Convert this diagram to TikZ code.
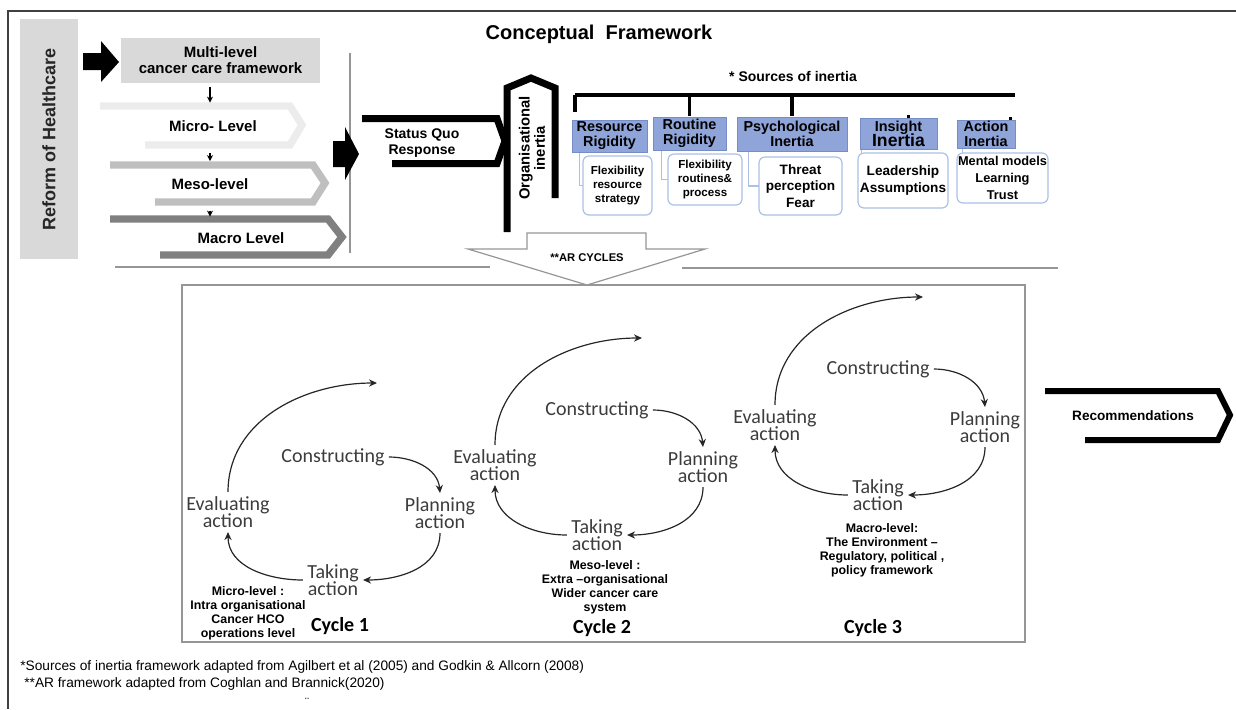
\documentclass[tikz,border=0pt]{standalone}
\usepackage{fontspec}
\setmainfont{Liberation Sans}
\newfontfamily\calibri{Carlito}
\usetikzlibrary{arrows.meta,calc}

\definecolor{hdrblue}{RGB}{143,164,216}
\definecolor{hdredge}{RGB}{118,140,198}
\definecolor{detedge}{RGB}{172,192,230}
\definecolor{boxgray}{RGB}{217,217,217}
\definecolor{rulegray}{RGB}{150,150,150}
\definecolor{cyctext}{RGB}{60,60,60}

\begin{document}
\begin{tikzpicture}[x=0.5pt,y=-0.5pt,
  every node/.style={inner sep=0pt,align=center},
  rule/.style={draw=rulegray,line width=0.6pt},
  graybox/.style={fill=boxgray},
  band/.style={line width=3.7pt},
  chevron/.style={line width=3.5pt},
  levelarrow/.style={-{Stealth[length=3pt,width=3pt]},line width=0.7pt,shorten <=2pt},
  boxtext/.style={font=\bfseries\fontsize{7.5}{8}\selectfont},
  hdr/.style={draw=hdredge,fill=hdrblue,line width=0.5pt,font=\bfseries\fontsize{7.2}{7.5}\selectfont},
  detail/.style={draw=detedge,fill=white,rounded corners=3pt,line width=0.6pt,font=\bfseries\fontsize{6.8}{8.2}\selectfont},
  smalldetail/.style={detail,font=\bfseries\fontsize{5.8}{6.8}\selectfont},
  hook/.style={draw=detedge,line width=0.6pt},
  bracket/.style={line width=1.6pt},
  cyc/.style={font=\calibri\fontsize{10}{8.6}\selectfont,text=cyctext,inner sep=2pt},
  cycarrow/.style={-{Stealth[length=4pt,width=3.6pt]},line width=0.6pt,draw=black!85},
  level/.style={font=\bfseries\fontsize{6.2}{7}\selectfont},
  cycletitle/.style={font=\calibri\bfseries\fontsize{10}{12}\selectfont},
  note/.style={anchor=west,font=\fontsize{6.85}{8}\selectfont}]
\lineskiplimit=-10pt

\useasboundingbox (0,0) rectangle (1236,709);
\draw[draw=black!75,line width=1pt] (8,709) -- (8,11) -- (1236,11);

\node[graybox,rotate=90,minimum width=120pt,minimum height=29pt,
  font=\bfseries\fontsize{9}{10}\selectfont,text=black!85] (reform) at (49,139) {Reform of Healthcare};
\fill (83,53) -- (101,53) -- (101,41) -- (119,62) -- (101,82) -- (101,70) -- (83,70) -- cycle;
\node[graybox,boxtext,minimum width=99.5pt,minimum height=22.5pt] (multi) at (220.5,60.5) {Multi-level\\cancer care framework};

\draw[band,draw=gray!15] (100,106) -- (290,106) -- (302,125) -- (290,145) -- (145,145);
\draw[band,draw=gray!50] (110,165) -- (313,165) -- (325,183) -- (313,202) -- (155,202);
\draw[band,draw=gray] (110,219) -- (328,219) -- (342,237) -- (328,255) -- (160,255);
\node[boxtext,minimum height=23pt] (micro) at (213,126) {Micro- Level};
\node[boxtext,minimum height=22.5pt] (meso) at (210,184) {Meso-level};
\node[boxtext,minimum height=21pt] (macro) at (241,238) {Macro Level};
\draw[levelarrow] (multi.south -| meso.south) -- (micro.north -| meso.south);
\draw[levelarrow] (micro.south -| meso.south) -- (meso.north);
\draw[levelarrow] (meso.south) -- (meso.south |- macro.north);

\draw[rule] (350,53) -- (350,253);
\draw[rule] (115,267) -- (490,267);
\draw[rule] (682,268) -- (1058,268);

\fill (333,141) -- (345,141) -- (345,127) -- (359,154) -- (345,180) -- (345,167) -- (333,167) -- cycle;
\draw[chevron] (362,118.5) -- (497,118.5) -- (505,141) -- (497,163.5) -- (392,163.5);
\node[font=\bfseries\fontsize{7}{8}\selectfont] (quo) at (422,143) {Status Quo\\Response};
\draw[chevron] (507,232) -- (507,88) -- (531,78) -- (555,88) -- (555,198);
\node[rotate=90,font=\bfseries\fontsize{7.4}{7.6}\selectfont] (inertia) at (532,148) {Organisational\\inertia};

\node[font=\bfseries\fontsize{10}{12}\selectfont] (title) at (599,34) {Conceptual\ \ Framework};
\node[font=\bfseries\fontsize{7}{8}\selectfont] (sources) at (793,76) {* Sources of inertia};

\node[hdr,minimum width=37.5pt,minimum height=16pt] (res) at (609.5,136) {Resource\\Rigidity};
\node[hdr,minimum width=36.5pt,minimum height=16.5pt] (rou) at (689.5,133.5) {Routine\\Rigidity};
\node[hdr,minimum width=55pt,minimum height=17pt] (psy) at (792,134) {Psychological\\Inertia};
\node[hdr,minimum width=38.5pt,minimum height=15.5pt] (ins) at (898.5,133.5) {Insight\\{\fontsize{8.8}{8}\selectfont Inertia}};
\node[hdr,minimum width=29pt,minimum height=14pt] (act) at (986,134) {Action\\Inertia};

\coordinate (barl) at (575,95);
\coordinate (barr) at (1015,95);
\draw[bracket] (barl) -- (barr);
\draw[bracket,shorten >=4pt] (barl) -- (barl |- res.north);
\draw[bracket,shorten >=0.5pt] (rou.north |- barl) -- (rou.north);
\draw[bracket,shorten >=0.5pt] (psy.north |- barl) -- (psy.north);
\draw[bracket,shorten >=1.5pt] ($(ins.north)+(10,0)$ |- barl) -- ($(ins.north)+(10,0)$);
\draw[bracket,shorten >=1.5pt] ($(act.north east)+(-5,0)$ |- barl) -- ($(act.north east)+(-5,0)$);

\draw[hook] ($(res.south west)+(8,0)$) |- (617,185.5);
\draw[hook] ($(rou.south west)+(9,0)$) |- (705,179.5);
\draw[hook] ($(psy.south west)+(12,0)$) |- (800,186);
\draw[hook] ($(ins.south west)+(2,0)$) |- (903,180.5);
\draw[hook] ($(act.south west)+(6,0)$) |- (1002,178);

\node[smalldetail,minimum width=34.5pt,minimum height=29.5pt] (resd) at (617.5,185.5) {Flexibility\\resource\\strategy};
\node[smalldetail,minimum width=37pt,minimum height=25.5pt] (roud) at (705,179.5) {Flexibility\\routines\&\\process};
\node[detail,minimum width=41.5pt,minimum height=29pt] (psyd) at (800.5,186) {Threat\\perception\\Fear};
\node[detail,minimum width=45pt,minimum height=27.5pt] (insd) at (903,180.5) {Leadership\\Assumptions};
\node[detail,minimum width=45.5pt,minimum height=25pt,font=\bfseries\fontsize{6.4}{8.4}\selectfont] (actd) at (1002.5,178) {Mental models\\Learning\\Trust};

\draw[rule] (182,285) rectangle (1025,642);
\draw[rule,fill=white] (527,233) -- (646,233) -- (646,249) -- (705,249) -- (587,285) -- (468,249) -- (527,249) -- cycle;
\node[font=\bfseries\fontsize{5.6}{7}\selectfont] (ar) at (587,258) {**AR CYCLES};

\node[cyc] (con1) at (333,457) {Constructing};
\node[cyc] (plan1) at (440,513) {Planning\\action};
\node[cyc] (take1) at (333,580) {Taking\\action};
\node[cyc] (eval1) at (228,512) {Evaluating\\action};
\coordinate (top1) at (377,383);
\draw[cycarrow] (con1.east) to[out=0,in=95] (plan1.north);
\draw[cycarrow] (plan1.south) to[out=-90,in=0] (take1.east);
\draw[cycarrow] (take1.west) to[out=180,in=-90] (eval1.south);
\draw[cycarrow] (eval1.north) to[out=90,in=180] (top1);
\node[level] (lvl1) at (248,613) {Micro-level :\\Intra organisational\\Cancer HCO\\operations level};
\node[cycletitle] (cyc1) at (340,626) {Cycle 1};

\node[cyc] (con2) at (597,410) {Constructing};
\node[cyc] (plan2) at (703,467) {Planning\\action};
\node[cyc] (take2) at (597,535) {Taking\\action};
\node[cyc] (eval2) at (495,465) {Evaluating\\action};
\coordinate (top2) at (642,338);
\draw[cycarrow] (con2.east) to[out=0,in=95] (plan2.north);
\draw[cycarrow] (plan2.south) to[out=-90,in=0] (take2.east);
\draw[cycarrow] (take2.west) to[out=180,in=-90] (eval2.south);
\draw[cycarrow] (eval2.north) to[out=90,in=180] (top2);
\node[level] (lvl2) at (605,587) {Meso-level :\\Extra --organisational\\Wider cancer care\\system};
\node[cycletitle] (cyc2) at (602,628) {Cycle 2};

\node[cyc] (con3) at (878,369) {Constructing};
\node[cyc] (plan3) at (985,427) {Planning\\action};
\node[cyc] (take3) at (878,495) {Taking\\action};
\node[cyc] (eval3) at (775,425) {Evaluating\\action};
\coordinate (top3) at (923,297);
\draw[cycarrow] (con3.east) to[out=0,in=95] (plan3.north);
\draw[cycarrow] (plan3.south) to[out=-90,in=0] (take3.east);
\draw[cycarrow] (take3.west) to[out=180,in=-90] (eval3.south);
\draw[cycarrow] (eval3.north) to[out=90,in=180] (top3);
\node[level] (lvl3) at (882,550) {Macro-level:\\The Environment --\\Regulatory, political ,\\policy framework};
\node[cycletitle] (cyc3) at (873,628) {Cycle 3};

\draw[line width=3pt] (1045,391) -- (1218,391) -- (1230,415) -- (1218,440) -- (1085,440);
\node[font=\bfseries\fontsize{6.8}{8}\selectfont] (rec) at (1133,416) {Recommendations};

\node[note] (fn1) at (20,667) {*Sources of inertia framework adapted from Agilbert et al (2005) and Godkin \& Allcorn (2008)};
\node[note] (fn2) at (24,684) {**AR framework adapted from Coghlan and Brannick(2020)};
\node[font=\fontsize{6}{7}\selectfont] (mark) at (307,702) {¨};

\end{tikzpicture}
\end{document}
